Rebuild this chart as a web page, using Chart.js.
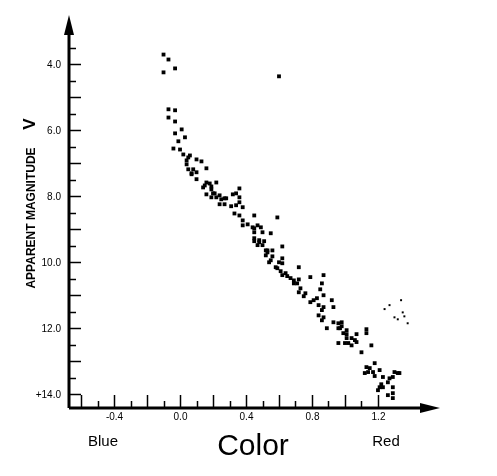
<!DOCTYPE html>
<html>
<head>
<meta charset="utf-8">
<script src="https://cdn.jsdelivr.net/npm/chart.js@4"></script>
<style>
  body { margin: 0; background: #fff; }
</style>
</head>
<body>
<canvas id="hr-chart" width="497" height="476"></canvas>
<script>
  // main sequence stars (B-V colour index, apparent magnitude V)
  var msColor = [
    -0.10, -0.07, -0.03, -0.10, 0.60,
    -0.07, -0.03, -0.07, -0.03, 0.01, -0.03, 0.03, -0.01, -0.04, 0.00,
    0.02, 0.06, 0.05, 0.10, 0.04, 0.13, 0.04, 0.16, 0.05, 0.08,
    0.10, 0.07, 0.07, 0.10, 0.16, 0.18, 0.22, 0.19, 0.14, 0.19,
    0.21, 0.16, 0.19, 0.22, 0.24, 0.28, 0.32, 0.34, 0.36, 0.36,
    0.15, 0.20, 0.25, 0.27, 0.24, 0.27, 0.31, 0.34, 0.36, 0.38,
    0.33, 0.36, 0.38, 0.41, 0.38, 0.45, 0.44, 0.45, 0.47, 0.49,
    0.45, 0.50, 0.59, 0.55, 0.45, 0.48, 0.51, 0.47, 0.50, 0.52,
    0.53, 0.56, 0.62, 0.52, 0.55, 0.60, 0.62, 0.62, 0.58, 0.59,
    0.61, 0.64, 0.65, 0.72, 0.62, 0.67, 0.69, 0.71, 0.72, 0.69,
    0.73, 0.72, 0.76, 0.75, 0.79, 0.87, 0.86, 0.85, 0.79, 0.81,
    0.83, 0.84, 0.87, 0.86, 0.84, 0.87, 0.92, 0.93, 0.87,
    0.45, 0.48, 0.53, 0.56, 0.54,
    0.89, 0.93, 0.96, 0.97, 0.98, 0.99, 1.01, 1.01, 0.96, 1.00,
    1.04, 1.06, 1.07, 1.13, 1.13, 1.10, 1.16, 1.18, 1.13, 1.15,
    1.17, 1.14, 1.12, 1.21, 1.18, 1.23, 1.29, 1.30, 1.32, 1.33,
    1.27, 1.26, 1.22, 1.21, 1.20, 1.29, 1.29, 1.26, 1.29, 1.23,
    0.86, 0.98, 0.96, 1.01, 1.04, 1.02, 1.07
  ];
  var msMag = [
    3.70, 3.85, 4.12, 4.24, 4.36,
    5.36, 5.39, 5.61, 5.73, 5.97, 6.09, 6.21, 6.33, 6.55, 6.58,
    6.73, 6.76, 6.82, 6.88, 6.91, 6.94, 7.03, 7.15, 7.18, 7.18,
    7.27, 7.30, 7.33, 7.48, 7.58, 7.61, 7.58, 7.70, 7.73, 7.79,
    7.91, 7.94, 8.03, 8.03, 7.97, 8.06, 7.94, 7.91, 7.76, 8.03,
    7.67, 7.91, 8.09, 8.06, 8.24, 8.24, 8.30, 8.27, 8.18, 8.33,
    8.52, 8.58, 8.73, 8.85, 8.88, 8.58, 8.94, 8.97, 8.88, 8.94,
    9.09, 9.09, 8.64, 9.12, 9.36, 9.33, 9.36, 9.48, 9.48, 9.64,
    9.70, 9.64, 9.52, 9.79, 9.94, 10.00, 9.88, 10.03, 10.15, 10.18,
    10.27, 10.33, 10.42, 10.15, 10.39, 10.48, 10.55, 10.64, 10.52, 10.64,
    10.79, 10.91, 10.94, 11.03, 10.45, 10.39, 10.64, 10.82, 11.21, 11.15,
    11.09, 11.30, 11.36, 11.45, 11.61, 11.00, 11.15, 11.36, 11.67,
    9.27, 9.39, 9.64, 9.82, 10.00,
    12.00, 11.82, 11.85, 12.00, 11.94, 12.15, 12.18, 12.30, 12.45, 12.45,
    12.52, 12.36, 12.18, 12.03, 12.15, 12.73, 12.52, 13.06, 13.18, 13.21,
    13.33, 13.33, 13.36, 13.27, 13.45, 13.48, 13.48, 13.33, 13.36, 13.36,
    13.52, 13.64, 13.70, 13.79, 13.88, 13.79, 13.97, 14.03, 14.12, 13.79,
    11.76, 11.82, 12.00, 12.06, 12.30, 12.45, 12.42
  ];

  // faint small dots to the upper right (red giants)
  var giantColor = [1.24, 1.27, 1.34, 1.30, 1.32, 1.35, 1.36, 1.38];
  var giantMag = [11.42, 11.30, 11.15, 11.67, 11.73, 11.52, 11.64, 11.85];

  // axis ticks
  var xTicks = [-0.6, -0.5, -0.4, -0.3, -0.2, -0.1, 0.0, 0.1, 0.2, 0.3, 0.4, 0.5, 0.6, 0.7, 0.8, 0.9, 1.0, 1.1, 1.2];
  var xTickLabels = {'-0.4': '-0.4', '0': '0.0', '0.4': '0.4', '0.8': '0.8', '1.2': '1.2'};
  var yTicks = [3.5, 4.0, 4.5, 5.0, 5.5, 6.0, 6.5, 7.0, 7.5, 8.0, 8.5, 9.0, 9.5, 10.0, 10.5, 11.0, 11.5, 12.0, 12.5, 13.0, 13.5, 14.0];
  var yTickLabels = {'4': '4.0', '6': '6.0', '8': '8.0', '10': '10.0', '12': '12.0', '14': '+14.0'};

  function toPoints(xs, ys) {
    var pts = [];
    for (var i = 0; i < xs.length; i++) pts.push({x: xs[i], y: ys[i]});
    return pts;
  }

  var FONT = '"Liberation Sans", Arial, sans-serif';

  // draws the arrowed axes, inward ticks and the text around them
  var axesPlugin = {
    id: 'axesPlugin',
    afterDatasetsDraw: function(chart) {
      var ctx = chart.ctx;
      var xs = chart.scales.x, ys = chart.scales.y;
      var area = chart.chartArea;
      var x0 = area.left, y0 = area.bottom;
      ctx.save();
      ctx.strokeStyle = '#000';
      ctx.fillStyle = '#000';

      // axis lines
      ctx.lineWidth = 3;
      ctx.beginPath();
      ctx.moveTo(x0, y0);
      ctx.lineTo(x0, area.top + 14);
      ctx.moveTo(x0, y0);
      ctx.lineTo(area.right - 16, y0);
      ctx.stroke();

      // arrow heads
      ctx.beginPath();
      ctx.moveTo(x0, area.top);
      ctx.lineTo(x0 - 5, area.top + 20);
      ctx.lineTo(x0 + 5, area.top + 20);
      ctx.closePath();
      ctx.fill();
      ctx.beginPath();
      ctx.moveTo(area.right, y0);
      ctx.lineTo(area.right - 20, y0 - 5);
      ctx.lineTo(area.right - 20, y0 + 5);
      ctx.closePath();
      ctx.fill();

      // y ticks (inward)
      ctx.lineWidth = 1.5;
      ctx.font = '10px ' + FONT;
      ctx.textAlign = 'right';
      ctx.textBaseline = 'middle';
      yTicks.forEach(function(v) {
        var py = Math.round(ys.getPixelForValue(v)) + 0.5;
        var major = Math.abs(v - Math.round(v)) < 1e-6;
        ctx.beginPath();
        ctx.moveTo(x0, py);
        ctx.lineTo(x0 + (major ? 12 : 7), py);
        ctx.stroke();
        var lab = yTickLabels[String(v)];
        if (lab) ctx.fillText(lab, x0 - 8, py + 1);
      });

      // x ticks (inward)
      ctx.textAlign = 'center';
      ctx.textBaseline = 'top';
      xTicks.forEach(function(v) {
        var px = Math.round(xs.getPixelForValue(v)) + 0.5;
        var major = Math.abs(Math.round(v * 10) % 2) === 0;
        ctx.beginPath();
        ctx.moveTo(px, y0);
        ctx.lineTo(px, y0 - (major ? 13 : 7));
        ctx.stroke();
        var key = String(Math.round(v * 10) / 10);
        var lab = xTickLabels[key];
        if (lab) ctx.fillText(lab, px, y0 + 4);
      });

      // x axis words
      ctx.textBaseline = 'alphabetic';
      ctx.font = '15px ' + FONT;
      ctx.fillText('Blue', 103, 446);
      ctx.fillText('Red', 386, 446);
      ctx.font = '30px ' + FONT;
      ctx.fillText('Color', 253, 455);

      // y axis title
      ctx.translate(35, 0);
      ctx.rotate(-Math.PI / 2);
      ctx.textAlign = 'center';
      ctx.font = 'bold 12px ' + FONT;
      ctx.fillText('APPARENT MAGNITUDE', -218, 0, 142);
      ctx.font = 'bold 17px ' + FONT;
      ctx.fillText('V', -124, 0);
      ctx.restore();
    }
  };

  var hrCtx = document.getElementById('hr-chart').getContext('2d');
  var hrChart = new Chart(hrCtx, {
    type: 'scatter',
    data: {
      datasets: [{
        label: 'Main sequence',
        data: toPoints(msColor, msMag),
        backgroundColor: '#000',
        borderColor: '#000',
        pointStyle: 'rect',
        pointRadius: 2.7,
        borderWidth: 0
      }, {
        label: 'Giants',
        data: toPoints(giantColor, giantMag),
        backgroundColor: '#000',
        borderColor: '#000',
        pointStyle: 'rect',
        pointRadius: 1.4,
        borderWidth: 0
      }]
    },
    options: {
      responsive: false,
      animation: false,
      layout: { padding: { left: 69, top: 15, right: 57, bottom: 68 } },
      plugins: { legend: { display: false }, tooltip: { enabled: false } },
      scales: {
        x: { type: 'linear', min: -0.673, max: 1.576, display: false },
        y: { type: 'linear', min: 2.5, max: 14.42, reverse: true, display: false }
      }
    },
    plugins: [axesPlugin]
  });
</script>
</body>
</html>
